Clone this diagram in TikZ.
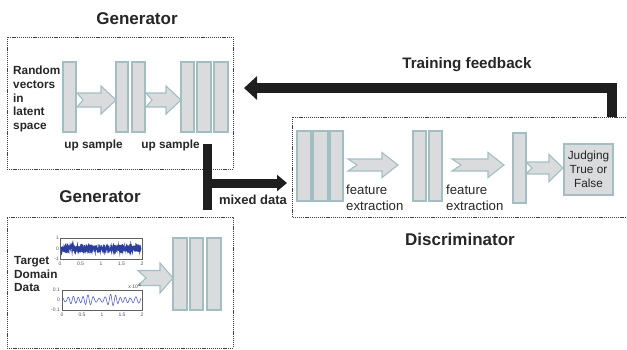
\documentclass[tikz,border=0pt]{standalone}
\usepackage{fontspec}
\setmainfont{Liberation Sans}
\usetikzlibrary{arrows.meta}

\definecolor{barfill}{HTML}{D9DBDD}
\definecolor{barline}{HTML}{A3BEC3}
\definecolor{ink}{HTML}{1E1E1E}
\definecolor{txt}{HTML}{262626}
\definecolor{sigdark}{HTML}{2C3E9E}
\definecolor{siglight}{HTML}{4B57C4}

\newcommand\fsz[2]{\fontsize{#1}{#2}\selectfont}

% layer bar: name, x1, y1, x2, y2
\newcommand\layerbar[5]{%
  \node[bar, minimum width={(#4-#2)*1pt}, minimum height={(#5-#3)*1pt}]
    (#1) at ({(#2+#4)/2},{(#3+#5)/2}) {};}

% notched block arrow: x1, x2, yc, head half-height, shaft half-height, head length, notch depth
\newcommand\fatarrow[7]{%
  \draw[fat] (#1,#3-#5) -- (#2-#6,#3-#5) -- (#2-#6,#3-#4) -- (#2,#3)
    -- (#2-#6,#3+#4) -- (#2-#6,#3+#5) -- (#1,#3+#5) -- (#1+#7,#3) -- cycle;}

\begin{document}
\begin{tikzpicture}[x=1pt,y=-1pt,
  bar/.style={draw=barline, fill=barfill, line width=1.1pt, inner sep=0pt, outer sep=0pt},
  fat/.style={draw=barline, fill=barfill, line width=1.1pt, line join=miter},
  dbox/.style={draw=ink!85, dash pattern=on 1.2pt off 0.9pt, line width=0.8pt, inner sep=0pt},
  title/.style={font=\fsz{17}{20}\bfseries, text=txt},
  blabel/.style={font=\fsz{11.8}{13.7}\bfseries, text=txt, inner sep=0pt, align=left},
  rlabel/.style={font=\fsz{13.2}{16}, text=txt, inner sep=0pt, align=left},
  tick/.style={font=\fsz{5}{5}, text=txt!80, inner sep=0pt},
  frame/.style={draw=ink!70, line width=0.5pt},
  thickarrow/.style={draw=ink, line join=miter}
]
\useasboundingbox (0,0) rectangle (627,349);

% ---------- dashed enclosures ----------
\node[dbox, minimum width=226pt, minimum height=132pt] (genA) at (120,103) {};
\node[dbox, minimum width=226pt, minimum height=131pt] (genB) at (120,282.5) {};
\draw[dbox] (626,117) -- (292,117) -- (292,217) -- (626,217);
\coordinate (disc) at (459,117);

% ---------- titles ----------
\node[title] (tA) at (137,19) {Generator};
\node[title] (tB) at (100,197) {Generator};
\node[title] (tD) at (460,239) {Discriminator};
\node[title, font=\fsz{15.2}{18}\bfseries] (tF) at (467,65) {Training feedback};

% ---------- upper generator ----------
\node[blabel, anchor=north west] (rv) at (13,66)
  {Random\\vectors\\in\\latent\\space};
\layerbar{g1}{63}{62}{76}{132}
\layerbar{g2}{116}{62}{128}{132}
\layerbar{g3}{132}{62}{145}{132}
\layerbar{g4}{181}{62}{194}{132}
\layerbar{g5}{197}{62}{211}{132}
\layerbar{g6}{214}{62}{228}{132}
\fatarrow{77}{116}{100}{14}{7}{15}{6}
\fatarrow{146}{181}{100}{14}{7}{15}{6}
\node[blabel] (us1) at (93.5,145) {up sample};
\node[blabel] (us2) at (170.5,145) {up sample};

% ---------- lower generator ----------
\node[blabel, anchor=north west] (td) at (14,256) {Target\\Domain\\Data};
\layerbar{h1}{173}{238}{187}{310}
\layerbar{h2}{190}{238}{203}{310}
\layerbar{h3}{207}{238}{221}{310}
\fatarrow{138}{173}{278}{15}{7.5}{13}{8}

% signal plot 1
\pgfmathsetseed{7}
\draw[sigdark, line width=1pt]
  plot[domain=61:141, samples=420] (\x, {248.5 + 4.6*rand*(0.6+0.4*abs(sin(\x*23)))});
\node[frame, minimum width=82pt, minimum height=21pt, inner sep=0pt] (p1) at (101,248.5) {};
\node[tick, anchor=east] at (59,238) {1};
\node[tick, anchor=east] at (59,248.5) {0};
\node[tick, anchor=east] at (59,259) {-1};
\foreach \xv/\lab in {60/0, 80.5/0.5, 101/1, 121.5/1.5, 142/2}
  \node[tick] at (\xv,264) {\lab};

% signal plot 2
\draw[siglight, line width=0.55pt]
  plot[domain=63:141, samples=420]
  (\x, {300 + (1.8+4.2*abs(sin(\x*5.5))*(0.6+0.4*sin(\x*17)))*sin(\x*68 + 50*sin(\x*9))});
\node[frame, minimum width=80pt, minimum height=20pt, inner sep=0pt] (p2) at (102,300) {};
\node[tick, anchor=east] at (60,290) {0.1};
\node[tick, anchor=east] at (60,300) {0};
\node[tick, anchor=east] at (60,310) {-0.1};
\node[tick, anchor=south east] at (142,289) {x 10$^4$};
\foreach \xv/\lab in {62/0, 82/0.5, 102/1, 122/1.5, 142/2}
  \node[tick] at (\xv,315) {\lab};

% ---------- discriminator ----------
\layerbar{d1}{297}{131}{311}{201}
\layerbar{d2}{313}{131}{328}{201}
\layerbar{d3}{330}{131}{343}{201}
\fatarrow{348}{398}{165}{12.5}{6}{16}{9}
\layerbar{d4}{413}{131}{426}{201}
\layerbar{d5}{429}{131}{442}{201}
\fatarrow{452}{504}{165}{12.5}{6}{16}{9}
\layerbar{d6}{513}{133}{526}{203}
\fatarrow{526}{563}{168}{13.5}{6}{14}{6}
\node[bar, minimum width=49pt, minimum height=51pt, align=center,
      font=\fsz{11.8}{14}, text=txt] (judge) at (588.5,169.5)
  {Judging\\True or\\False};
\node[rlabel, anchor=north west] (fe1) at (346,184.5) {feature\\extraction};
\node[rlabel, anchor=north west] (fe2) at (446,184.5) {feature\\extraction};

% ---------- black connectors ----------
\coordinate (fbx) at (612,0);
\coordinate (fbrow) at (0,88);
\coordinate (fbend) at (244,88);
\draw[thickarrow, line width=10.5pt, -{Triangle[length=13pt,width=23pt]}]
  (fbx |- disc) -- (fbx |- fbrow) -- (fbend);

\coordinate (mixtop) at (207.5,144);
\coordinate (mixbot) at (207.5,210);
\coordinate (mixend) at (287,183);
\draw[thickarrow, line width=9pt] (mixtop) -- (mixbot);
\draw[thickarrow, line width=9pt, -{Triangle[length=10pt,width=16pt]}]
  (mixtop |- mixend) -- (mixend);
\node[blabel, font=\fsz{13}{15}\bfseries] (mix) at (253,200) {mixed data};

\end{tikzpicture}
\end{document}
